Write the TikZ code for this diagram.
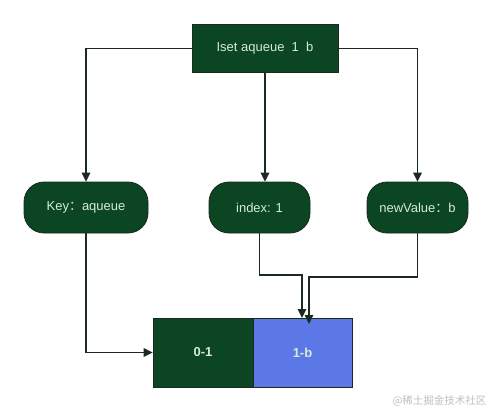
\documentclass[tikz,border=0pt]{standalone}
\usepackage{fontspec}
\setmainfont{Liberation Sans}
\newfontfamily\cjkfont{Noto Sans CJK SC}
\usetikzlibrary{arrows.meta}
\definecolor{dgreen}{HTML}{0B4521}
\definecolor{edgecol}{HTML}{1A2A1E}
\definecolor{txtcol}{HTML}{D4ECD6}
\definecolor{cellblue}{HTML}{5B78E6}
\begin{document}
\begin{tikzpicture}[x=1pt,y=-1pt,
  box/.style={draw=edgecol,line width=0.8pt,fill=dgreen,text=txtcol,inner sep=0pt,
    font=\fontsize{13}{15}\selectfont},
  rbox/.style={box,rounded corners=20pt},
  conn/.style={draw=edgecol,line width=1.5pt,-{Triangle[length=9pt,width=8.5pt]}},
  lbl/.style={text=txtcol,font=\fontsize{13}{15}\selectfont\bfseries}]
\useasboundingbox (0,0) rectangle (492,413);
\fill[white] (0,0) rectangle (492,413);
\node[box,minimum width=146pt,minimum height=48pt] (top) at (265,48.5) {Iset aqueue\ \ 1\ \ b};
\node[rbox,minimum width=124pt,minimum height=51pt] (key) at (86,207.5) {Key{\cjkfont ：}aqueue};
\node[rbox,minimum width=101pt,minimum height=51pt] (idx) at (259.5,207.5) {index: 1};
\node[rbox,minimum width=101pt,minimum height=51pt] (val) at (417.5,207.5) {newValue{\cjkfont ：}b};
\node[draw=edgecol,line width=0.8pt,fill=dgreen,minimum width=100pt,minimum height=69pt,inner sep=0pt] (c0) at (203,352.5) {};
\node[draw=edgecol,line width=0.8pt,fill=cellblue,minimum width=99pt,minimum height=69pt,inner sep=0pt] (c1) at (302.5,352.5) {};
\node[lbl] at (c0) {0-1};
\node[lbl] at (c1) {1-b};
\coordinate (tipm) at (302,318);
\coordinate (tipr) at (309,324);
\draw[conn] (top.west) -| (key.north);
\draw[conn] (top.south) -- (idx.north -| top.south);
\draw[conn] (top.east) -| (val.north);
\draw[conn] (key.south) |- (c0.west);
\draw[conn] (idx.south) |- (302,275) -- (tipm);
\draw[conn] (val.south) |- (309,277) -- (tipr);
\node[text=gray!50,font=\cjkfont\fontsize{10.5}{12}\selectfont,anchor=east] (wm) at (490,401) {@稀土掘金技术社区};
\end{tikzpicture}
\end{document}
